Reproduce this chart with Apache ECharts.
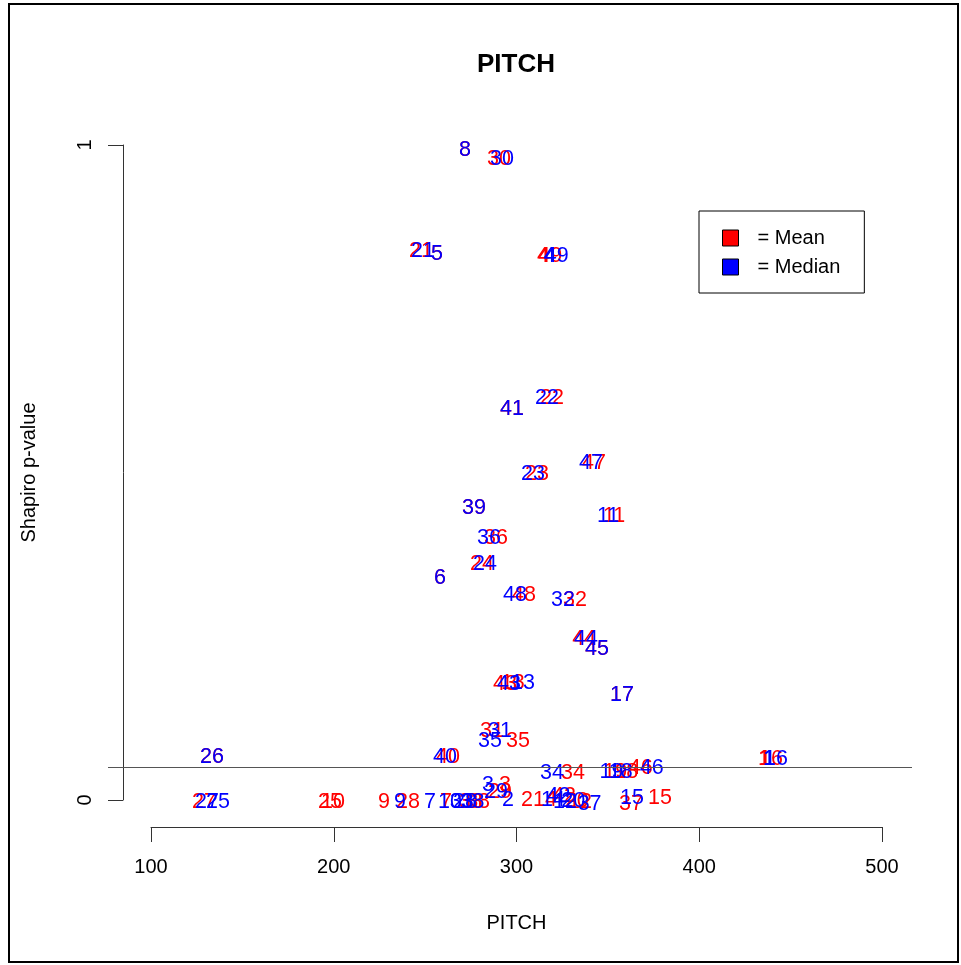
<!DOCTYPE html>
<html><head><meta charset="utf-8">
<script src="https://cdn.jsdelivr.net/npm/echarts@6/dist/echarts.min.js"></script>
<style>
html,body{margin:0;padding:0;background:#fff;}
#c{width:961px;height:965px;}
#frame{position:absolute;left:8px;top:3px;width:947px;height:956px;border:2px solid #000;pointer-events:none;}
</style>
</head><body><div id="c"></div><div id="frame"></div>
<script>
const ids = [1,2,3,4,5,6,7,8,9,10,11,12,13,14,15,16,17,18,19,20,21,22,23,24,25,26,27,28,29,30,31,32,33,34,35,36,37,38,39,40,41,42,43,44,45,46,47,48,49];
const meanPitch = [435.4,305.7,293.7,314.5,256.5,258.1,261.4,271.8,227.5,199.6,353.4,334.7,298.0,315.6,378.5,439.3,357.7,360.0,354.0,333.0,247.7,319.4,311.2,281.1,197.9,133.4,129.0,240.6,291.0,290.4,286.6,332.0,275.0,330.9,300.8,288.8,362.6,279.0,276.7,262.5,297.5,326.0,293.7,337.0,344.0,368.0,342.4,304.1,318.5];
const medianPitch = [438.2,295.4,284.4,318.0,256.5,258.1,252.7,271.8,236.3,263.6,350.1,326.5,303.6,320.0,363.2,442.0,357.7,357.0,352.0,331.0,248.8,316.7,309.0,282.8,136.7,133.4,130.6,271.8,288.8,292.1,291.0,325.4,270.0,319.4,285.5,285.0,340.0,276.0,276.7,260.9,297.5,323.0,295.9,338.0,344.0,374.0,340.8,299.2,322.0];
const pValue = [0.066,0.003,0.026,0.834,0.837,0.342,0.000,0.995,0.000,0.000,0.437,0.000,0.182,0.002,0.005,0.066,0.163,0.045,0.046,0.001,0.841,0.617,0.501,0.363,0.000,0.069,0.000,0.000,0.015,0.982,0.108,0.308,0.000,0.044,0.093,0.403,-0.004,0.000,0.449,0.069,0.600,0.008,0.180,0.249,0.234,0.052,0.518,0.316,0.834];
const xTicks = [100,200,300,400,500];
const yTicks = [0,1];
const refLine = 0.05;

const FONT = 'Liberation Sans, Arial, sans-serif';
const meanData = ids.map((id,i)=>[meanPitch[i], pValue[i], id]);
const medianData = ids.map((id,i)=>[medianPitch[i], pValue[i], id]);

const chart = echarts.init(document.getElementById('c'), null, {renderer:'canvas'});
const labelCfg = (color)=>({show:true, position:'inside', offset:[0,2], formatter:p=>String(p.data[2]), color:color, opacity:1, fontSize:21.5, fontFamily:FONT, textBorderWidth:0});
chart.setOption({
  animation:false,
  backgroundColor:'#fff',
  title:{text:'PITCH', left:477, top:52, padding:0, textStyle:{fontSize:26, fontWeight:'bold', fontFamily:FONT, color:'#000'}},
  legend:{
    orient:'vertical', left:699, top:211, itemWidth:16, itemHeight:16, itemGap:9,
    padding:[17,24,16,23], borderColor:'#000', borderWidth:1, backgroundColor:'#fff', icon:'rect',
    textStyle:{fontSize:20, fontFamily:FONT, color:'#000', padding:[0,0,0,14]},
    formatter:n=>'= '+n,
    data:[{name:'Mean', itemStyle:{color:'#ff0000', borderColor:'#000', borderWidth:1, opacity:1}},
          {name:'Median', itemStyle:{color:'#0000ff', borderColor:'#000', borderWidth:1, opacity:1}}]
  },
  grid:[
    {left:108, right:49, top:119, bottom:139},
    {left:151, right:79, top:119, bottom:138},
    {left:123, right:49, top:145, bottom:165}
  ],
  xAxis:[
    {gridIndex:0, type:'value', min:76.5, max:516.4, show:false},
    {gridIndex:1, type:'value', min:100, max:500, interval:100, position:'bottom',
     axisLine:{show:true, onZero:false, lineStyle:{color:'#333', width:1}},
     axisTick:{show:true, length:15, inside:false, lineStyle:{color:'#333'}, customValues:xTicks},
     axisLabel:{fontSize:20, fontFamily:FONT, color:'#000', margin:30, customValues:xTicks},
     splitLine:{show:false},
     name:'PITCH', nameLocation:'middle', nameGap:86, nameTextStyle:{fontSize:20, fontFamily:FONT, color:'#000'}},
    {gridIndex:2, type:'value', show:false}
  ],
  yAxis:[
    {gridIndex:0, type:'value', min:-0.04, max:1.04, show:false},
    {gridIndex:1, type:'value', min:0, max:1, show:false},
    {gridIndex:2, type:'value', min:0, max:1, interval:1, position:'left',
     axisLine:{show:true, onZero:false, lineStyle:{color:'#333', width:1}},
     axisTick:{show:true, length:15, inside:false, lineStyle:{color:'#333'}, customValues:yTicks},
     axisLabel:{fontSize:20, fontFamily:FONT, color:'#000', margin:28, rotate:90, customValues:yTicks},
     splitLine:{show:false},
     name:'Shapiro p-value', nameLocation:'middle', nameGap:84, nameTextStyle:{fontSize:20, fontFamily:FONT, color:'#000'}}
  ],
  series:[
    {name:'Mean', type:'scatter', xAxisIndex:0, yAxisIndex:0, data:meanData, symbolSize:1,
     itemStyle:{color:'rgba(0,0,0,0)', opacity:1}, label:labelCfg('#ff0000'), emphasis:{disabled:true}, z:2,
     markLine:{silent:true, symbol:['none','none'], label:{show:false}, lineStyle:{color:'#555', type:'solid', width:1}, data:[{yAxis:refLine}]}},
    {name:'Median', type:'scatter', xAxisIndex:0, yAxisIndex:0, data:medianData, symbolSize:1,
     itemStyle:{color:'rgba(0,0,0,0)', opacity:1}, label:labelCfg('#0000ff'), emphasis:{disabled:true}, z:3}
  ]
});
</script>
</body></html>
